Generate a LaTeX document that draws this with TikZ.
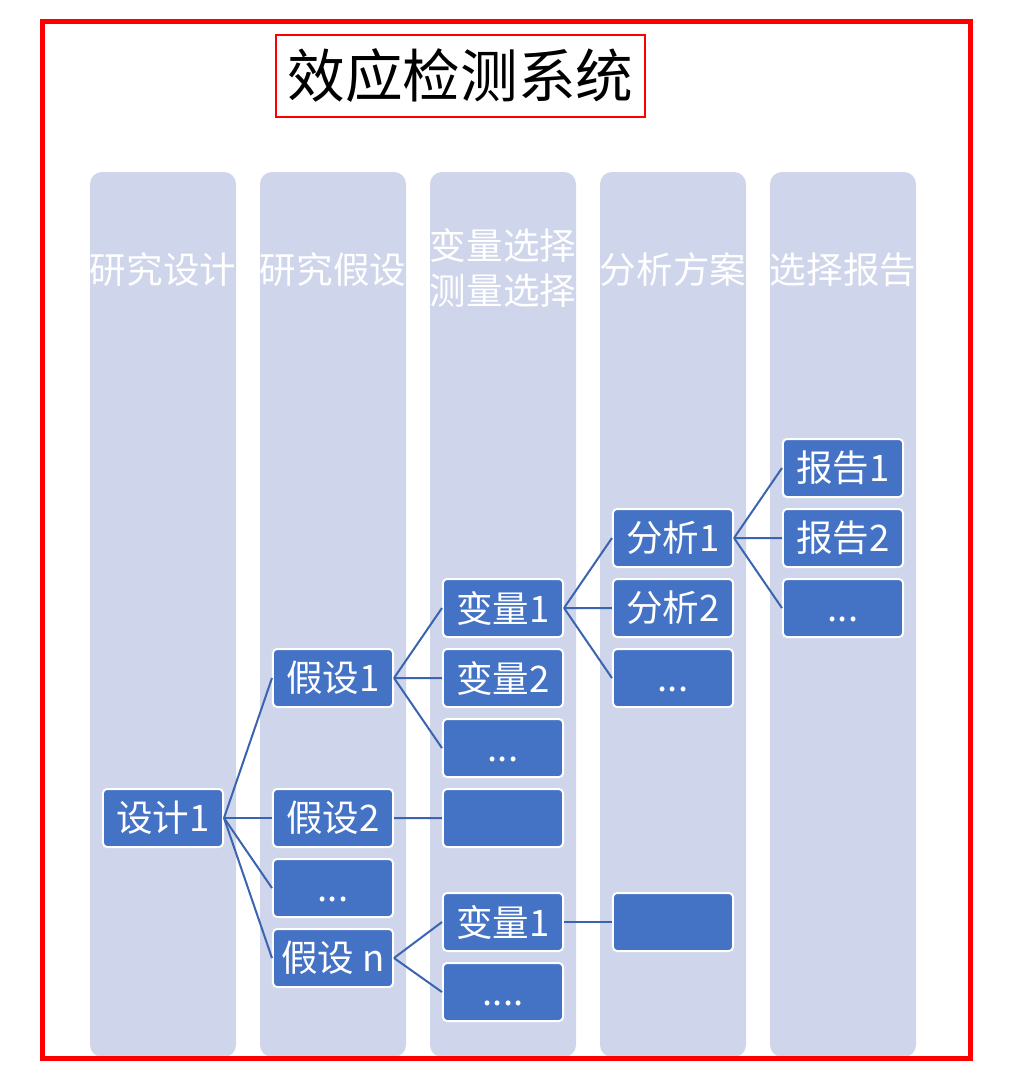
\documentclass[tikz,border=0pt]{standalone}
\usepackage{fontspec}
\setmainfont{Noto Sans CJK SC}
\usetikzlibrary{positioning}
\definecolor{lanebg}{HTML}{CFD5EA}
\definecolor{boxblue}{HTML}{4472C4}
\definecolor{linkblue}{HTML}{3A64B0}

\begin{document}
\begin{tikzpicture}[
  x=0.025cm, y=-0.025cm,
  lane/.style={fill=lanebg, rounded corners=0.3cm},
  head/.style={text=white, font=\fontsize{26}{32}\selectfont, align=center, inner sep=0pt},
  box/.style={rectangle, rounded corners=0.1cm, draw=white, line width=0.05cm, fill=boxblue, text=white, minimum width=3cm, minimum height=1.45cm, inner sep=0pt, font=\fontsize{26}{30}\selectfont, execute at begin node=\vphantom{设}},
  link/.style={draw=linkblue, line width=0.05cm},
  node distance=0.25cm
]
  \useasboundingbox (0,0) rectangle (1008,1080);

  % lanes and their heads
  \foreach \x in {90,260,430,600,770}
    \fill[lane] (\x,172) rectangle (\x+146,1057);
  \node[head] (c1) at (163,270) {研究设计};
  \node[head] (c2) at (333,270) {研究假设};
  \node[head] (c3) at (503,268) {变量选择\\测量选择};
  \node[head] (c4) at (673,270) {分析方案};
  \node[head] (c5) at (843,270) {选择报告};

  % title
  \node[draw=red, line width=0.05cm, minimum width=9.2cm, minimum height=2.05cm,
        font=\fontsize{41}{45}\selectfont] (title) at (460.5,76) {效应检测系统};

  % boxes
  \node[box] (d1) at (163,818) {设计1};

  \node[box] (h1) at (333,678) {假设1};
  \node[box] (h2) at (333,818) {假设2};
  \node[box, below=of h2] (h3) {...};
  \node[box, below=of h3] (hn) {假设 n};

  \node[box] (v1) at (503,608) {变量1};
  \node[box, below=of v1] (v2) {变量2};
  \node[box, below=of v2] (v3) {...};
  \node[box, below=of v3] (v4) {};
  \node[box] (v5) at (503,922) {变量1};
  \node[box, below=of v5] (v6) {....};

  \node[box] (a1) at (673,538) {分析1};
  \node[box, below=of a1] (a2) {分析2};
  \node[box, below=of a2] (a3) {...};
  \node[box] (a4) at (673,922) {};

  \node[box] (r1) at (843,468) {报告1};
  \node[box, below=of r1] (r2) {报告2};
  \node[box, below=of r2] (r3) {...};

  % links
  \foreach \t in {h1,h2,h3,hn}
    \draw[link] (d1.east) -- (\t.west);
  \foreach \t in {v1,v2,v3}
    \draw[link] (h1.east) -- (\t.west);
  \draw[link] (h2.east) -- (v4.west);
  \foreach \t in {v5,v6}
    \draw[link] (hn.east) -- (\t.west);
  \foreach \t in {a1,a2,a3}
    \draw[link] (v1.east) -- (\t.west);
  \draw[link] (v5.east) -- (a4.west);
  \foreach \t in {r1,r2,r3}
    \draw[link] (a1.east) -- (\t.west);

  % frame
  \draw[red, line width=0.125cm] (42.5,21.5) rectangle (970.5,1058);
\end{tikzpicture}
\end{document}
